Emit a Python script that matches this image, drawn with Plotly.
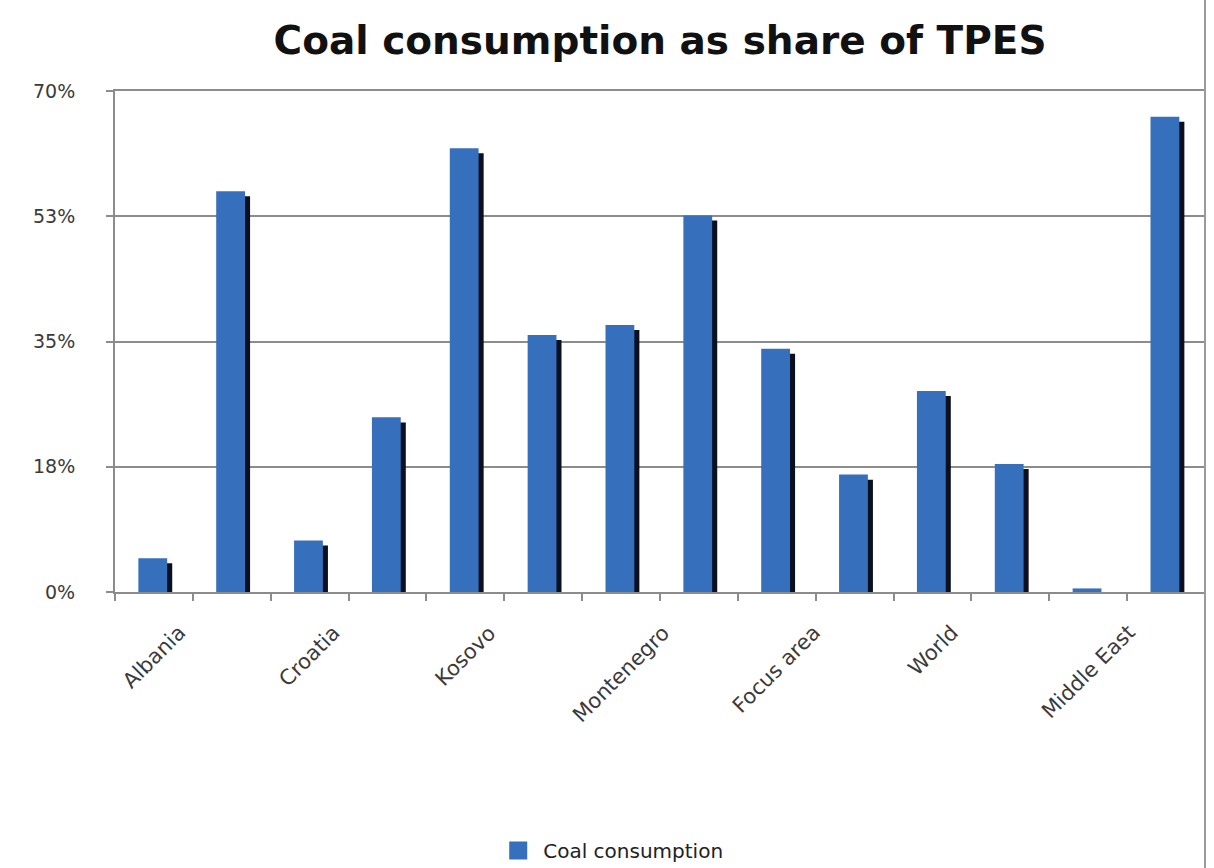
import plotly.graph_objects as go

# Coal consumption as a share of total primary energy supply (%)
categories = [
    "Albania", "Bosnia and Herzegovina", "Croatia", "Greece", "Kosovo",
    "Macedonia", "Montenegro", "Serbia", "Focus area", "EU-27",
    "World", "OECD", "Middle East", "China",
]
coal_share = [4.7, 56.0, 7.2, 24.4, 62.0, 35.9, 37.3, 52.6, 34.0, 16.4, 28.1, 17.9, 0.5, 66.4]
# only every other category carries a visible label on the axis
shown_labels = ["Albania", "", "Croatia", "", "Kosovo", "", "Montenegro", "",
                "Focus area", "", "World", "", "Middle East", ""]
y_tick_values = [0, 17.5, 35, 52.5, 70]
y_tick_labels = ["0%", "18%", "35%", "53%", "70%"]
series_name = "Coal consumption"

FACE = "#3670bd"
SHADOW = "#0b1020"
GRID = "#8c8c8c"
FONT = "DejaVu Sans"

fig = go.Figure()

# dark drop shadow behind each bar, nudged right and down
fig.add_trace(go.Bar(
    x=categories, y=coal_share, base=-0.7,
    width=0.37, offset=-0.135,
    marker=dict(color=SHADOW, line=dict(width=0)),
    showlegend=False, hoverinfo="skip",
))
# bar faces
fig.add_trace(go.Bar(
    x=categories, y=coal_share,
    width=0.37, offset=-0.2,
    name=series_name, showlegend=False,
    marker=dict(color=FACE, line=dict(width=0)),
))
# legend key drawn as a larger square swatch
fig.add_trace(go.Scatter(
    x=[None], y=[None], mode="markers", name=series_name,
    marker=dict(symbol="square", size=16, color=FACE,
                line=dict(color=FACE, width=2)),
    showlegend=True, hoverinfo="skip",
))

# centred, rotated category labels
for cat, lab in zip(categories, shown_labels):
    if lab:
        fig.add_annotation(
            x=cat, xref="x", y=-0.052, yref="paper",
            text=lab, textangle=-45, showarrow=False,
            xanchor="center", yanchor="top",
            font=dict(family=FONT, size=21, color="#3a3a3a"),
        )

fig.update_layout(
    width=1214, height=868,
    margin=dict(l=115, r=9, t=91, b=276, autoexpand=False),
    paper_bgcolor="white", plot_bgcolor="white",
    barmode="overlay",
    title=dict(
        text="<b>Coal consumption as share of TPES</b>",
        x=0.5, xref="paper", xanchor="center",
        y=1 - 40 / 868, yref="container", yanchor="middle",
        font=dict(family=FONT, size=39, color="#111111"),
    ),
    legend=dict(
        orientation="h", x=0.347, xanchor="left",
        y=-0.516, yanchor="middle",
        font=dict(family=FONT, size=20, color="#222222"),
        itemsizing="trace", itemwidth=40,
    ),
    showlegend=True,
)

fig.update_xaxes(
    type="category",
    tickvals=categories, ticktext=[""] * len(categories),
    tickson="boundaries", ticks="outside", ticklen=7, tickwidth=1.5, tickcolor=GRID,
    showline=True, linecolor=GRID, linewidth=2, mirror=True,
    showgrid=False, zeroline=False,
    range=[-0.5, len(categories) - 0.5],
)
fig.update_yaxes(
    range=[0, 70],
    tickvals=y_tick_values, ticktext=y_tick_labels,
    ticks="outside", ticklen=7, tickwidth=2, tickcolor=GRID,
    ticklabelstandoff=27,
    tickfont=dict(family=FONT, size=19, color="#3a3a3a"),
    showline=True, linecolor=GRID, linewidth=2,
    showgrid=True, gridcolor=GRID, gridwidth=2,
    zeroline=False,
)

# right-hand border of the chart frame
fig.add_shape(
    type="line", xref="paper", yref="paper",
    x0=1.0, x1=1.0, y0=-0.6, y1=1.2,
    line=dict(color="#9a9a9a", width=2),
)

fig.write_html("out.html")
